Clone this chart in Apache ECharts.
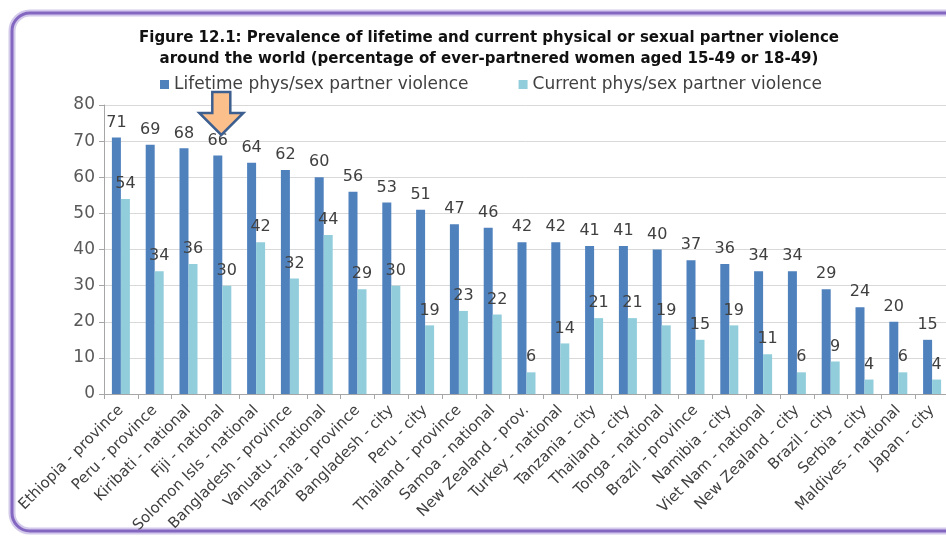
<!DOCTYPE html>
<html>
<head>
<meta charset="utf-8">
<script src="https://cdn.jsdelivr.net/npm/echarts@6/dist/echarts.min.js"></script>
<style>
  html, body { margin: 0; padding: 0; background: #ffffff; }
  #chart { width: 946px; height: 536px; }
</style>
</head>
<body>
<div id="chart"></div>
<script>
// Survey sites, ordered by lifetime prevalence
const categories = [
  'Ethiopia - province', 'Peru - province', 'Kiribati - national', 'Fiji - national',
  'Solomon Isls - national', 'Bangladesh - province', 'Vanuatu - national', 'Tanzania - province',
  'Bangladesh - city', 'Peru - city', 'Thailand - province', 'Samoa - national',
  'New Zealand - prov.', 'Turkey - national', 'Tanzania - city', 'Thailand - city',
  'Tonga - national', 'Brazil - province', 'Namibia - city', 'Viet Nam - national',
  'New Zealand - city', 'Brazil - city', 'Serbia - city', 'Maldives - national', 'Japan - city'
];
// Percentage of ever-partnered women
const lifetime = [71, 69, 68, 66, 64, 62, 60, 56, 53, 51, 47, 46, 42, 42, 41, 41, 40, 37, 36, 34, 34, 29, 24, 20, 15];
const current  = [54, 34, 36, 30, 42, 32, 44, 29, 30, 19, 23, 22, 6, 14, 21, 21, 19, 15, 19, 11, 6, 9, 4, 6, 4];
const yTicks = { min: 0, max: 80, interval: 10 };
const seriesNames = ['Lifetime phys/sex partner violence', 'Current phys/sex partner violence'];
const highlighted = 'Fiji - national';

const FONT = 'DejaVu Sans';
const chart = echarts.init(document.getElementById('chart'), null, { renderer: 'canvas' });

const labelStyle = {
  show: true, position: 'top', distance: 7,
  fontFamily: FONT, fontSize: 16, color: '#404040'
};

chart.setOption({
  animation: false,
  backgroundColor: '#ffffff',
  title: {
    text: 'Figure 12.1: Prevalence of lifetime and current physical or sexual partner violence\naround the world (percentage of ever-partnered women aged 15-49 or 18-49)',
    left: 484, top: 23, textAlign: 'center',
    textStyle: { fontFamily: FONT, fontSize: 15, fontWeight: 'bold', color: '#111111', lineHeight: 21 }
  },
  legend: {
    left: 155, top: 71,
    itemWidth: 9, itemHeight: 9, itemGap: 50,
    icon: 'rect',
    textStyle: { fontFamily: FONT, fontSize: 17, color: '#404040' },
    data: seriesNames
  },
  grid: {
    left: 104, top: 105, width: 845, height: 289,
    containLabel: false, outerBoundsMode: 'none'
  },
  xAxis: {
    type: 'category', data: categories,
    axisLine: { lineStyle: { color: '#a6a6a6' } },
    axisTick: { show: true, length: 5, lineStyle: { color: '#a6a6a6' } },
    axisLabel: {
      interval: 0, rotate: 45, margin: 14,
      fontFamily: FONT, fontSize: 15, color: '#404040'
    }
  },
  yAxis: {
    type: 'value', min: yTicks.min, max: yTicks.max, interval: yTicks.interval,
    axisLine: { show: true, lineStyle: { color: '#a6a6a6' } },
    axisTick: { show: true, length: 5, lineStyle: { color: '#a6a6a6' } },
    axisLabel: { margin: 9, fontFamily: FONT, fontSize: 17, color: '#595959' },
    splitLine: { lineStyle: { color: '#d9d9d9' } }
  },
  series: [
    {
      name: seriesNames[0], type: 'bar', data: lifetime,
      barWidth: 9, barGap: '0%',
      itemStyle: { color: '#4f81bd' },
      label: labelStyle
    },
    {
      name: seriesNames[1], type: 'bar', data: current,
      barWidth: 9, barGap: '0%',
      itemStyle: { color: '#92cddc' },
      label: labelStyle
    }
  ]
});

// Frame around the figure and the pointer arrow above the highlighted site
const ax = chart.convertToPixel({ xAxisIndex: 0 }, highlighted) - 1;
const arrowTop = 92, headTop = 113, tip = 135, shaftHalf = 9, headHalf = 22;
chart.setOption({
  graphic: [
    {
      type: 'rect', silent: true, z: 0,
      shape: { x: 12, y: 13, width: 960, height: 518, r: 18 },
      style: { fill: 'none', stroke: '#d3c9ea', lineWidth: 7 }
    },
    {
      type: 'rect', silent: true, z: 1,
      shape: { x: 12, y: 13, width: 960, height: 518, r: 18 },
      style: { fill: 'none', stroke: '#8467c0', lineWidth: 3 }
    },
    {
      type: 'polygon', silent: true, z: 100,
      shape: {
        points: [
          [ax - shaftHalf, arrowTop], [ax + shaftHalf, arrowTop],
          [ax + shaftHalf, headTop], [ax + headHalf, headTop],
          [ax, tip], [ax - headHalf, headTop],
          [ax - shaftHalf, headTop]
        ]
      },
      style: { fill: '#fbbf8c', stroke: '#3d5f8f', lineWidth: 2.5, lineJoin: 'miter' }
    }
  ]
});
</script>
</body>
</html>
